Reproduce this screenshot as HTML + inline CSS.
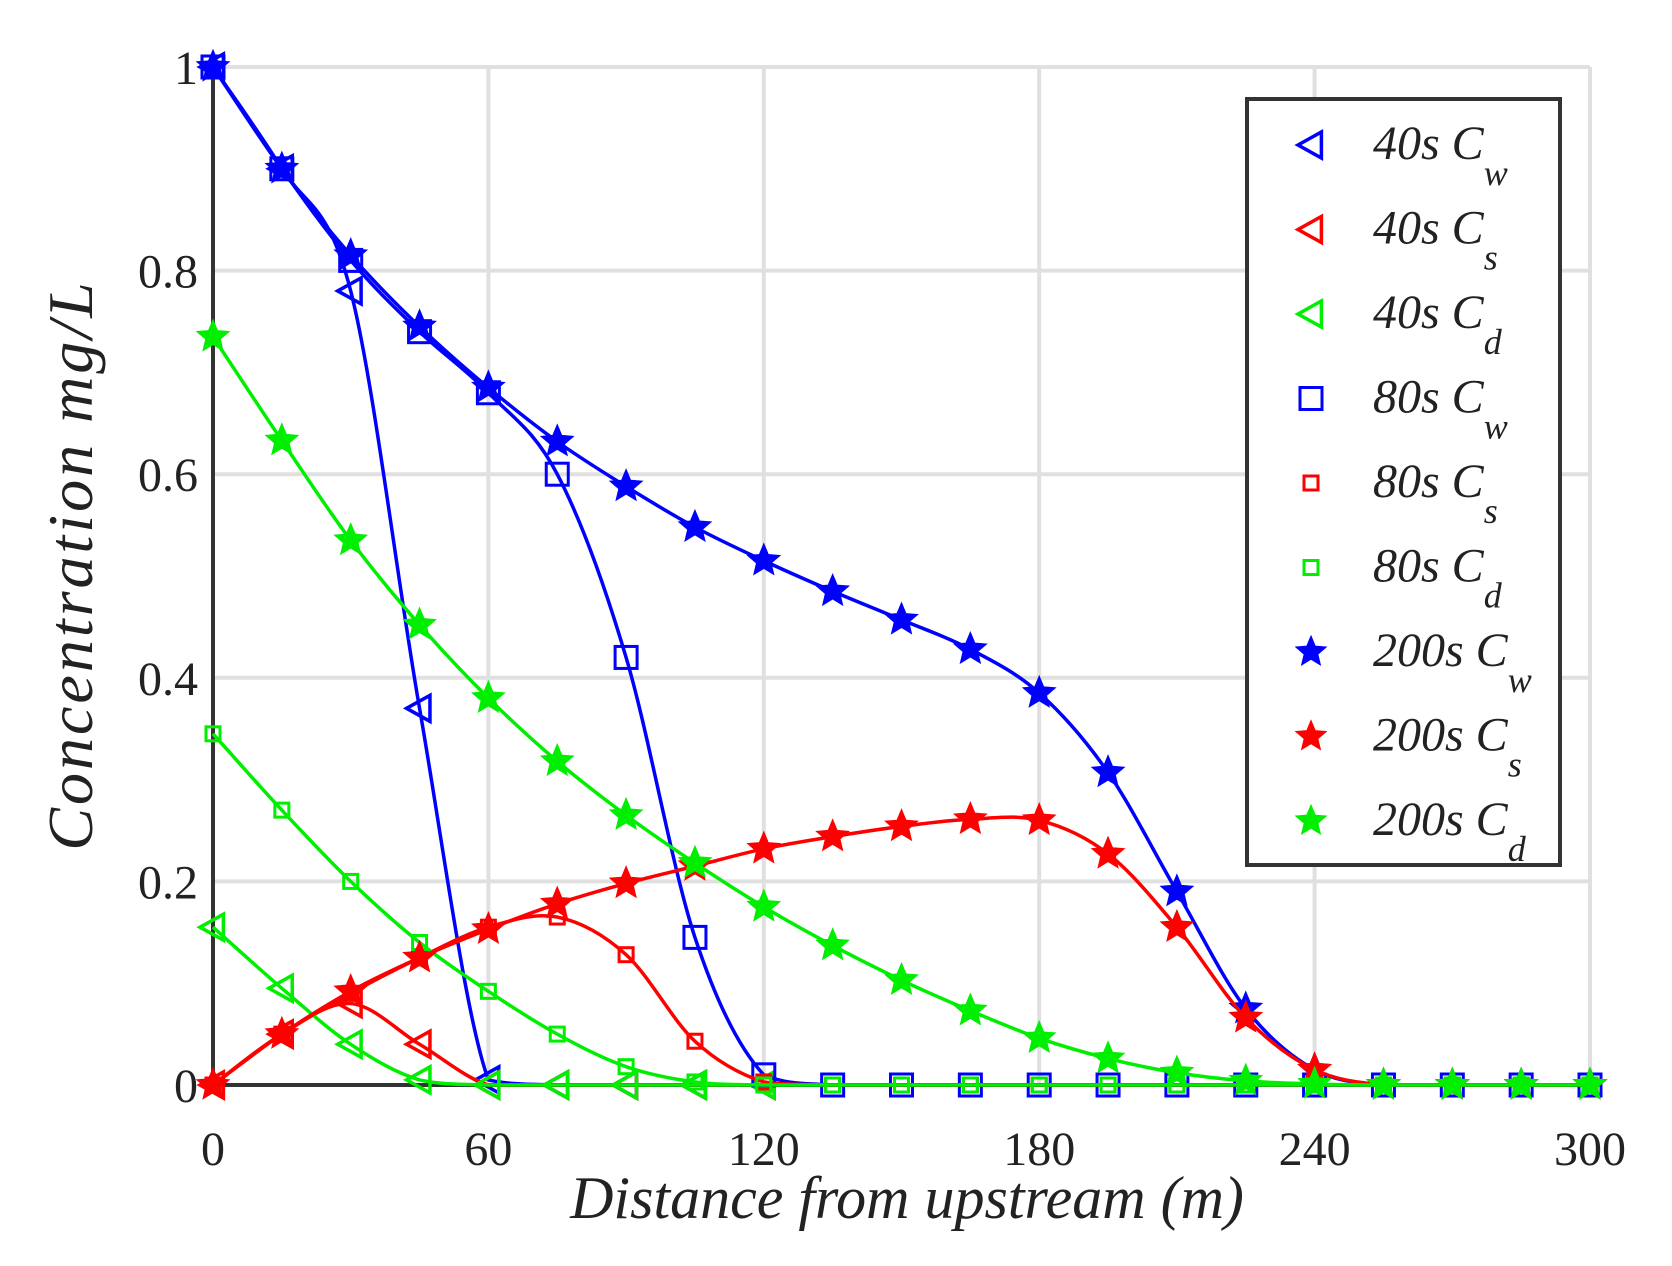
<!DOCTYPE html>
<html><head><meta charset="utf-8"><style>
body{margin:0;background:#fff}
svg{display:block}
text{font-family:"Liberation Serif",serif;fill:#222}
</style></head><body>
<svg id="chart" width="1672" height="1266" viewBox="0 0 1672 1266" xmlns="http://www.w3.org/2000/svg">
<g id="grid"></g>
<g id="axes"></g>
<g id="series"></g>
<g id="legend"></g>
</svg>
<script>
const xs = [0,15,30,45,60,75,90,105,120,135,150,165,180,195,210,225,240,255,270,285,300];
const xTicks = [0,60,120,180,240,300];
const yTicks = [0,0.2,0.4,0.6,0.8,1];
const yTickLabels = ['0','0.2','0.4','0.6','0.8','1'];
const cw40 = [1,0.9,0.78,0.37,0.005,0,0,0,0];
const cs40 = [0,0.05,0.08,0.04,0,0,0,0,0];
const cd40 = [0.155,0.095,0.04,0.005,0,0,0,0,0];
const cw80 = [1,0.9,0.81,0.74,0.68,0.6,0.42,0.145,0.01,0,0,0,0,0,0,0,0,0,0,0,0];
const cs80 = [0,0.05,0.09,0.125,0.155,0.165,0.128,0.043,0.003,0,0,0,0,0,0,0,0,0,0,0,0];
const cd80 = [0.345,0.27,0.2,0.14,0.092,0.05,0.018,0.003,0,0,0,0,0,0,0,0,0,0,0,0,0];
const cw200 = [1,0.9,0.815,0.745,0.685,0.632,0.588,0.548,0.515,0.485,0.457,0.428,0.385,0.307,0.19,0.075,0.015,0,0,0,0];
const cs200 = [0,0.05,0.092,0.125,0.153,0.178,0.198,0.215,0.232,0.244,0.254,0.261,0.26,0.227,0.155,0.066,0.015,0,0,0,0];
const cd200 = [0.735,0.633,0.535,0.452,0.38,0.318,0.265,0.218,0.175,0.137,0.103,0.073,0.046,0.026,0.012,0.004,0.001,0,0,0,0];

const NS='http://www.w3.org/2000/svg';
const X0=213,X1=1590,Y0=1085,Y1=67;
const sx=v=>X0+(v-0)/300*(X1-X0);
const sy=v=>Y0-(v-0)/1*(Y0-Y1);
function mk(tag,attrs,parent){const e=document.createElementNS(NS,tag);for(const k in attrs)e.setAttribute(k,attrs[k]);parent.appendChild(e);return e;}
const grid=document.getElementById('grid'),axes=document.getElementById('axes'),ser=document.getElementById('series'),leg=document.getElementById('legend');

xTicks.forEach(t=>{
  const l=mk('line',{x1:sx(t),x2:sx(t),y1:Y1,y2:Y0,stroke:'#e0e0e0','stroke-width':4},grid);
  
  
  const tx=mk('text',{x:sx(t),y:1165,'font-size':48,'text-anchor':'middle'},axes);
  tx.textContent=t;
  
  
});
yTicks.forEach((t,i)=>{
  const l=mk('line',{x1:X0,x2:X1,y1:sy(t),y2:sy(t),stroke:'#e0e0e0','stroke-width':4},grid);
  
  
  const tx=mk('text',{x:198,y:sy(t)+17,'font-size':48,'text-anchor':'end'},axes);
  tx.textContent=yTickLabels[i];
  
  
});
const ax=mk('path',{d:`M${X0},${Y1}V${Y0}H${X1}`,fill:'none',stroke:'#333','stroke-width':4},axes);


const xt=mk('text',{x:907,y:1218,'font-size':60,'font-style':'italic','text-anchor':'middle'},axes);
xt.textContent='Distance from upstream (m)';


const yt=mk('text',{x:0,y:0,'font-size':64,'font-style':'italic','text-anchor':'middle','letter-spacing':3,transform:'translate(92,565) rotate(-90)','xml:space':'preserve'},axes);
yt.textContent='Concentration   mg/L';



function spline(vals){
  const p=vals.map((v,i)=>[sx(xs[i]),sy(v)]);
  let d=`M${p[0][0]},${p[0][1]}`;
  for(let i=0;i<p.length-1;i++){
    const p0=p[Math.max(i-1,0)],p1=p[i],p2=p[i+1],p3=p[Math.min(i+2,p.length-1)];
    let c1y=p1[1]+(p2[1]-p0[1])/6,c2y=p2[1]-(p3[1]-p1[1])/6;
    if(p1[1]===Y0||p2[1]===Y0){c1y=Math.min(c1y,Y0);c2y=Math.min(c2y,Y0);}
    d+=`C${p1[0]+(p2[0]-p0[0])/6},${c1y} ${p2[0]-(p3[0]-p1[0])/6},${c2y} ${p2[0]},${p2[1]}`;
  }
  return d;
}
function marker(type,x,y,color,g,size){
  let e;
  if(type==='tri'){const s=size||13;e=mk('polygon',{points:`${x-s},${y} ${x+s*0.8},${y-s} ${x+s*0.8},${y+s}`,fill:'none',stroke:color,'stroke-width':3.5},g);}
  else if(type==='sq'){const s=size||11;e=mk('rect',{x:x-s,y:y-s,width:2*s,height:2*s,fill:'none',stroke:color,'stroke-width':3},g);}
  else{const R=size||17,r=R*0.45;let pts=[];for(let k=0;k<10;k++){const a=-Math.PI/2+k*Math.PI/5,rr=k%2?r:R;pts.push(`${x+rr*Math.cos(a)},${y+rr*Math.sin(a)}`);}e=mk('polygon',{points:pts.join(' '),fill:color,stroke:color,'stroke-width':1},g);}
  return e;
}
const series=[
 ['40s','w',cw40,'#0000ff','tri',13],['40s','s',cs40,'#ff0000','tri',13],['40s','d',cd40,'#00ee00','tri',13],
 ['80s','w',cw80,'#0000ff','sq',11],['80s','s',cs80,'#ff0000','sq',7],['80s','d',cd80,'#00ee00','sq',7],
 ['200s','w',cw200,'#0000ff','star',17],['200s','s',cs200,'#ff0000','star',17],['200s','d',cd200,'#00ee00','star',17]
];
series.forEach(([t,sub,vals,col,m,sz])=>{
  const g=mk('g',{},ser);
  
  
  const path=mk('path',{d:spline(vals),fill:'none',stroke:col,'stroke-width':3.5},g);
  
  
  vals.forEach((v,j)=>{
    const e=marker(m,sx(xs[j]),sy(v),col,g,sz);
    
    
  });
});
const box=mk('rect',{x:1247,y:99,width:313,height:766,fill:'#fff',stroke:'#333','stroke-width':4},leg);


series.forEach(([t,sub,vals,col,m,sz],i)=>{
  const y=145+i*84.5;
  const g=mk('g',{},leg);
  
  
  marker(m,1311,y,col,g,m==='sq'?(sz===11?11:7):(m==='tri'?13:16));
  const tx=mk('text',{x:1373,y:y+14,'font-size':48,'font-style':'italic','xml:space':'preserve'},g);
  tx.textContent=`${t}  C`;
  const st=mk('tspan',{dy:26,'font-size':36},tx);
  st.textContent=sub;
});
</script>
</body></html>
